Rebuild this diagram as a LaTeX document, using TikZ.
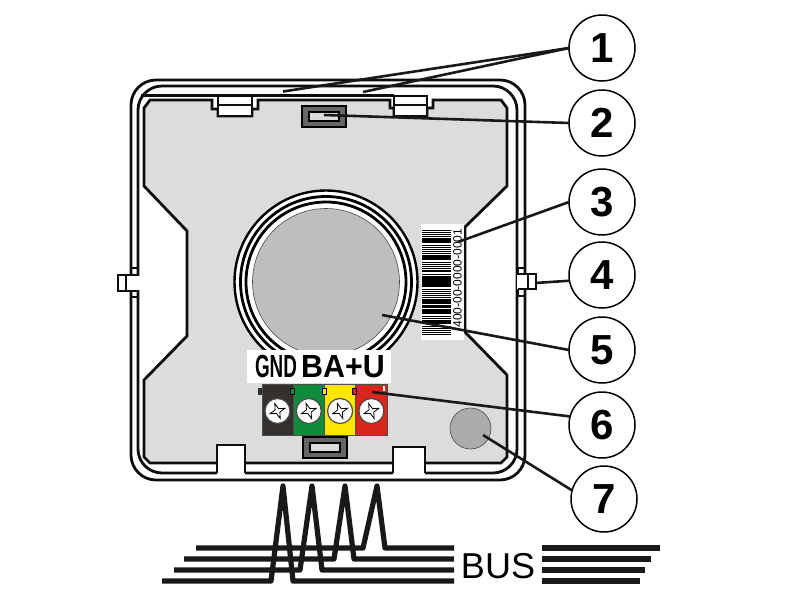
\documentclass[tikz,border=0pt]{standalone}
\usepackage{fontspec}
\setmainfont{Liberation Sans}
\usetikzlibrary{positioning,calc}
\definecolor{panelgray}{HTML}{DCDCDC}
\definecolor{lensgray}{HTML}{BFBEBE}
\definecolor{ledgray}{HTML}{ABABAB}
\definecolor{termblack}{HTML}{33302E}
\definecolor{termgreen}{HTML}{0F8B3C}
\definecolor{termyellow}{HTML}{FFE600}
\definecolor{termred}{HTML}{D9261C}
\tikzstyle{callout}=[draw, circle, line width=1.5pt, fill=white, minimum size=66pt, inner sep=0pt, outer sep=0pt,
  font=\fontsize{42}{42}\selectfont\bfseries]
\tikzstyle{line} = [draw, line width=2.6pt, color=black!90]
\tikzstyle{case} = [draw=black!95, line width=2.8pt]
\tikzstyle{wire} = [draw=black!90, line width=5.2pt, line join=round]
\tikzstyle{term} = [minimum width=31.3pt, minimum height=51pt, inner sep=0pt, outer sep=0pt, draw=black!70, line width=0.6pt]
\tikzstyle{screw} = [circle, draw=black!70, line width=1.2pt, fill=white, minimum size=25pt, inner sep=0pt]
\newcommand{\callout}[1]{node (c#1)[callout]{#1}}
\newcommand{\topclip}[2]{%
\fill[white] (#1,96) rectangle (#2,116);
\draw[case] (#1,96) rectangle (#2,116);
\draw[case] (#1,105) -- (#2,105);}
\newcommand{\notch}[3]{%
\fill[white] (#1,#3) rectangle (#2,475);
\draw[case] (#1,473) -- (#1,#3) -- (#2,#3) -- (#2,473);}
\newcommand{\holder}[2]{%
\draw[line width=2.4pt, fill=black!60] (#1,#2) rectangle +(44,21);
\draw[line width=2.4pt, fill=panelgray] ($(#1,#2)+(7,6)$) rectangle +(30,9);}
\newcommand{\slotmark}[1]{%
\draw[line width=0.8pt, shift={(#1)}, rotate=20] (0:8) -- (45:2.6) -- (90:8) -- (135:2.6)
  -- (180:8) -- (225:2.6) -- (270:8) -- (315:2.6) -- cycle;}

\begin{document}
\begin{tikzpicture}[x=1pt,y=-1pt]
  \useasboundingbox (0,0) rectangle (800,600);
  \fill[white] (0,0) rectangle (800,600);

  % Draw the case
  \draw[case, rounded corners=25pt] (131,80) rectangle (525,480);
  \draw[case, rounded corners=24pt] (138,86) rectangle (517,473);
  \draw[case] (141,95.5) -- (394,95.5);
  \draw[case, fill=panelgray] (150,100) -- (212,100) -- (212,109) -- (218,109) -- (218,116) -- (252,116)
    -- (252,109) -- (258,109) -- (258,100) -- (390,100) -- (390,108) -- (394,108) -- (394,116) -- (427,116)
    -- (427,108) -- (433,108) -- (433,100) -- (501,100) -- (507,108) -- (507,186) -- (465,227) -- (465,332)
    -- (507,375) -- (507,457) -- (501,463) -- (150,463) -- (144,457) -- (144,380) -- (187,336) -- (187,231)
    -- (144,186) -- (144,108) -- cycle;
  \topclip{218}{252}
  \topclip{394}{427}
  \notch{217}{245}{445}
  \notch{393}{425}{447}
  \holder{302}{106}
  \holder{303}{437}

  % Side tabs
  \draw[case] (131,268) rectangle (138,297);
  \fill[white] (127,276) rectangle (139.5,290);
  \draw[case] (118,275) rectangle (126,291);
  \draw[case] (126,275) -- (138,275);
  \draw[case] (126,291) -- (138,291);
  \draw[case] (518,268) rectangle (525,296);
  \fill[white] (516.5,275) rectangle (528,289);
  \draw[case] (528,274) rectangle (536,289);
  \draw[case] (518,274) -- (528,274);
  \draw[case] (518,289) -- (528,289);

  % Lens
  \coordinate (lens) at (326,282);
  \fill[white] (lens) circle (92);
  \draw[line width=2.4pt] (lens) circle (91.5);
  \draw[line width=2.8pt] (lens) circle (85.5);
  \draw[line width=2.8pt] (lens) circle (80);
  \draw[line width=0.6pt, draw=black!70, fill=lensgray] (lens) circle (73.5);

  % Barcode
  \node (label) [fill=white, minimum width=43pt, minimum height=116pt, inner sep=0pt] at (442.5,282) {};
  \foreach \ya/\yb in {238/243,255/259.5,270/272,277/287,299/304,305/308,309/314,320/324}
    \fill (422,\ya) rectangle (451,\yb);
  \foreach \yy in {229.5,231.5,233.5,235.5,245,247,249,251,253,262,264,266,268,273.5,275.5,
                   288.5,290.5,292.5,294.5,296.5,316,318,326,328,330,332,334}
    \fill (422,\yy) rectangle (451,\yy+1.3);
  \node (serial) [rotate=90, font=\fontsize{12}{12}\selectfont, inner sep=0pt] at (457.5,278) {400-00-0000-0001};

  % Terminal block
  \node (t1) [term, fill=termblack] at (277.5,409.5) {};
  \node (t2) [term, fill=termgreen, right=0pt of t1] {};
  \node (t3) [term, fill=termyellow, right=0pt of t2] {};
  \node (t4) [term, fill=termred, right=0pt of t3] {};
  \fill[termblack] (258,388) rectangle (262,395);
  \draw[fill=termgreen, line width=0.6pt] (290,388) rectangle (294,394);
  \draw[fill=termyellow, line width=0.6pt] (322,388) rectangle (326,394);
  \draw[fill=termred, line width=0.6pt] (352,388) rectangle (356,394);
  \fill[white] (383,386) rectangle (385,391);
  \foreach \i in {1,2,3,4} {
    \node (s\i) [screw] at ($(t\i)+(0,1.5)$) {};
    \slotmark{s\i}
  }
  \node (names) [fill=white, minimum width=144pt, minimum height=33pt, inner sep=0pt] at (319,366.5) {};
  \node (gnd) [font=\fontsize{32}{32}\selectfont\bfseries, xscale=0.59, inner sep=0pt] at (276,366.5) {GND};
  \node (baplus) [font=\fontsize{32}{32}\selectfont\bfseries, xscale=0.95, inner sep=0pt] at (343,366.5) {BA+U};

  % Led
  \node (led) [circle, draw=black!70, line width=0.6pt, fill=ledgray, minimum size=41pt, inner sep=0pt] at (470.5,428.5) {};

  % Bus
  \draw[wire] (196,548) -- (363,548) -- (377,486) -- (385,548) -- (454,548);
  \draw[wire] (184,559) -- (334,559) -- (345,486) -- (354,559) -- (454,559);
  \draw[wire] (174,570) -- (300,570) -- (312,486) -- (322,570) -- (454,570);
  \draw[wire] (162,581) -- (271,581) -- (283,486) -- (293,581) -- (454,581);
  \node (bus) [font=\fontsize{36}{36}\selectfont, inner sep=0pt] at (498,566) {BUS};
  \draw[wire] (542,548) -- (660,548);
  \draw[wire] (542,559) -- (651,559);
  \draw[wire] (542,570) -- (645,570);
  \draw[wire] (542,581) -- (640,581);

  % Draw callouts
  \path (602,48) \callout{1};
  \path (c1.south)+(0,42) \callout{2};
  \path (c2.south)+(0,46) \callout{3};
  \path (c3.south)+(0,40) \callout{4};
  \path (c4.south)+(0,42) \callout{5};
  \path (c5.south)+(0,42) \callout{6};
  \path (c6.south)+(2,41) \callout{7};

  % Draw leaders
  \coordinate (e1a) at (283,91.5);
  \coordinate (e1b) at (363,92);
  \coordinate (e2) at (324,115);
  \coordinate (e3) at (458,242);
  \coordinate (e4) at (535,283);
  \coordinate (e5) at (382,315);
  \coordinate (e6) at (372,392);
  \coordinate (e7) at (483,435);
  \path [line] (c1.west) -- (e1a);
  \path [line] (c1.west) -- (e1b);
  \path [line] (c2.west) -- (e2);
  \path [line] (c3.west) -- (e3);
  \path [line] (c4.190) -- (e4);
  \path [line] (c5.west) -- (e5);
  \path [line] (c6.165) -- (e6);
  \path [line] (c7.165) -- (e7);
\end{tikzpicture}
\end{document}
